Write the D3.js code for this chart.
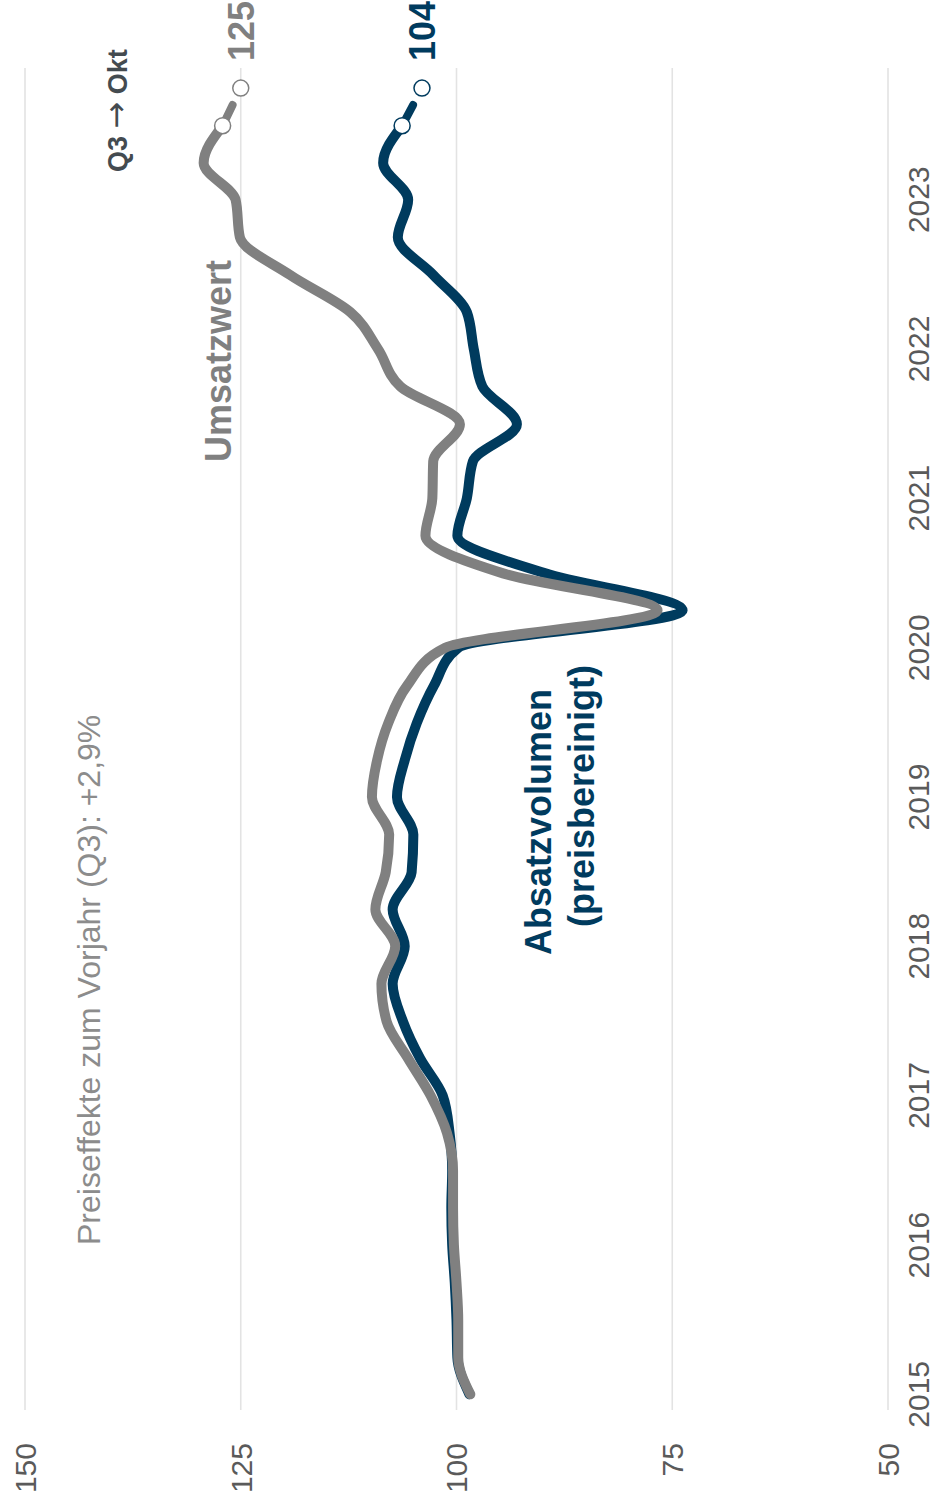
<!DOCTYPE html>
<html>
<head>
<meta charset="utf-8">
<script src="https://cdn.jsdelivr.net/npm/d3@7"></script>
<style>
  html, body { margin: 0; padding: 0; background: #fff; }
  svg { display: block; font-family: "Liberation Sans", Arial, sans-serif; }
</style>
</head>
<body>
<svg id="chart" width="937" height="1504"></svg>
<script>
// Quarterly index values (2015 Q1 – 2023 Q3)
const quarters = [
  "2015-01-01","2015-04-01","2015-07-01","2015-10-01",
  "2016-01-01","2016-04-01","2016-07-01","2016-10-01",
  "2017-01-01","2017-04-01","2017-07-01","2017-10-01",
  "2018-01-01","2018-04-01","2018-07-01","2018-10-01",
  "2019-01-01","2019-04-01","2019-07-01","2019-10-01",
  "2020-01-01","2020-04-01","2020-07-01","2020-10-01",
  "2021-01-01","2021-04-01","2021-07-01","2021-10-01",
  "2022-01-01","2022-04-01","2022-07-01","2022-10-01",
  "2023-01-01","2023-04-01","2023-07-01"
];
const umsatzwert = [
  98.4, 99.8, 99.8, 100.0,
  100.3, 100.4, 100.4, 101.1,
  103.0, 105.6, 108.1, 108.7,
  107.1, 109.4, 108.2, 107.8,
  109.8, 109.2, 107.9, 105.7,
  101.3, 76.7, 94.6, 103.6,
  102.8, 102.7, 99.6, 106.5,
  109.1, 112.3, 119.3, 125.1,
  125.6, 129.3, 127.1
];
const absatzvolumen = [
  98.5, 99.9, 100.0, 100.2,
  100.5, 100.6, 100.5, 100.8,
  101.6, 104.2, 106.2, 107.4,
  106.0, 107.4, 105.2, 105.0,
  106.9, 106.0, 104.6, 102.6,
  99.8, 73.8, 89.7, 99.9,
  98.8, 98.1, 93.0, 97.0,
  98.0, 98.8, 102.7, 106.8,
  105.6, 108.5, 106.3
];
// Latest monthly reading (October 2023)
const oktDate = "2023-10-01";
const oktUmsatzwert = 125;
const oktAbsatzvolumen = 104;

const valueTicks = [50, 75, 100, 125, 150];
const yearTicks = ["2015","2016","2017","2018","2019","2020","2021","2022","2023"];

const colGray = "#808080";
const colBlue = "#003b5e";

// The chart is laid out landscape (W x H) and turned upright by -90 degrees.
const W = 1504, H = 937;
const svg = d3.select("#chart");
const g = svg.append("g").attr("transform", `translate(0,${W}) rotate(-90)`);

const parse = d3.utcParse("%Y-%m-%d");
const x = d3.scaleUtc()
  .domain([parse("2015-01-01"), parse("2023-01-01")])
  .range([109.7, 1304.3]);
const y = d3.scaleLinear().domain([50, 150]).range([888, 25]);

// grid
g.append("g").selectAll("line").data(valueTicks).join("line")
  .attr("x1", 94).attr("x2", 1436)
  .attr("y1", d => y(d)).attr("y2", d => y(d))
  .attr("stroke", "#e3e3e3").attr("stroke-width", 1.6);

// value labels
g.append("g").selectAll("text").data(valueTicks).join("text")
  .attr("x", 61).attr("y", d => y(d)).attr("dy", "0.36em")
  .attr("text-anchor", "end")
  .attr("font-size", 30).attr("fill", "#5a5a5a")
  .text(d => d);

// year labels
g.append("g").selectAll("text").data(yearTicks).join("text")
  .attr("x", d => x(parse(d + "-01-01")))
  .attr("y", 929)
  .attr("text-anchor", "middle")
  .attr("font-size", 30).attr("fill", "#5a5a5a")
  .text(d => d);

const seriesGray = quarters.map((q, i) => ({ date: parse(q), v: umsatzwert[i] }));
const seriesBlue = quarters.map((q, i) => ({ date: parse(q), v: absatzvolumen[i] }));

const line = d3.line()
  .x(d => x(d.date)).y(d => y(d.v))
  .curve(d3.curveMonotoneX);

function drawSeries(data, oktValue, color) {
  const last = data[data.length - 1];
  const p0 = [x(last.date), y(last.v)];
  const p1 = [x(parse(oktDate)), y(oktValue)];
  const t = 0.55;
  // short link from Q3 towards October
  g.append("line")
    .attr("x1", p0[0]).attr("y1", p0[1])
    .attr("x2", p0[0] + (p1[0] - p0[0]) * t)
    .attr("y2", p0[1] + (p1[1] - p0[1]) * t)
    .attr("stroke", color).attr("stroke-width", 8)
    .attr("stroke-linecap", "round");
  g.append("path").datum(data)
    .attr("d", line)
    .attr("fill", "none").attr("stroke", color)
    .attr("stroke-width", 10)
    .attr("stroke-linecap", "round").attr("stroke-linejoin", "round");
}

drawSeries(seriesBlue, oktAbsatzvolumen, colBlue);
drawSeries(seriesGray, oktUmsatzwert, colGray);

// end markers and October value labels
function markers(data, oktValue, color) {
  const last = data[data.length - 1];
  g.append("circle").attr("cx", x(last.date)).attr("cy", y(last.v)).attr("r", 8)
    .attr("fill", "#fff").attr("stroke", color).attr("stroke-width", 1.5);
  g.append("circle").attr("cx", x(parse(oktDate))).attr("cy", y(oktValue)).attr("r", 8)
    .attr("fill", "#fff").attr("stroke", color).attr("stroke-width", 1.5);
  g.append("text")
    .attr("x", W - 1).attr("y", y(oktValue)).attr("dy", "0.36em")
    .attr("text-anchor", "end")
    .attr("font-size", 36).attr("font-weight", "bold").attr("fill", color)
    .text(oktValue);
}
markers(seriesBlue, oktAbsatzvolumen, colBlue);
markers(seriesGray, oktUmsatzwert, colGray);

// annotations
const q3 = g.append("text").attr("x", 1332).attr("y", 127)
  .attr("font-size", 27).attr("font-weight", "bold").attr("fill", "#444b50");
q3.append("tspan").text("Q3 ");
q3.append("tspan").attr("font-family", "DejaVu Sans").attr("font-weight", "normal")
  .attr("font-size", 32).text("\u2192");
q3.append("tspan").text(" Okt");

g.append("text").attr("x", 1042).attr("y", 231)
  .attr("font-size", 36).attr("font-weight", "bold").attr("fill", colGray)
  .text("Umsatzwert");

const lab = g.append("text")
  .attr("font-size", 36).attr("font-weight", "bold").attr("fill", colBlue);
lab.append("tspan").attr("x", 549).attr("y", 551).text("Absatzvolumen");
lab.append("tspan").attr("x", 577).attr("y", 594).text("(preisbereinigt)");

g.append("text").attr("x", 259).attr("y", 100)
  .attr("font-size", 32).attr("fill", "#8c8c8c")
  .text("Preiseffekte zum Vorjahr (Q3): +2,9%");
</script>
</body>
</html>
